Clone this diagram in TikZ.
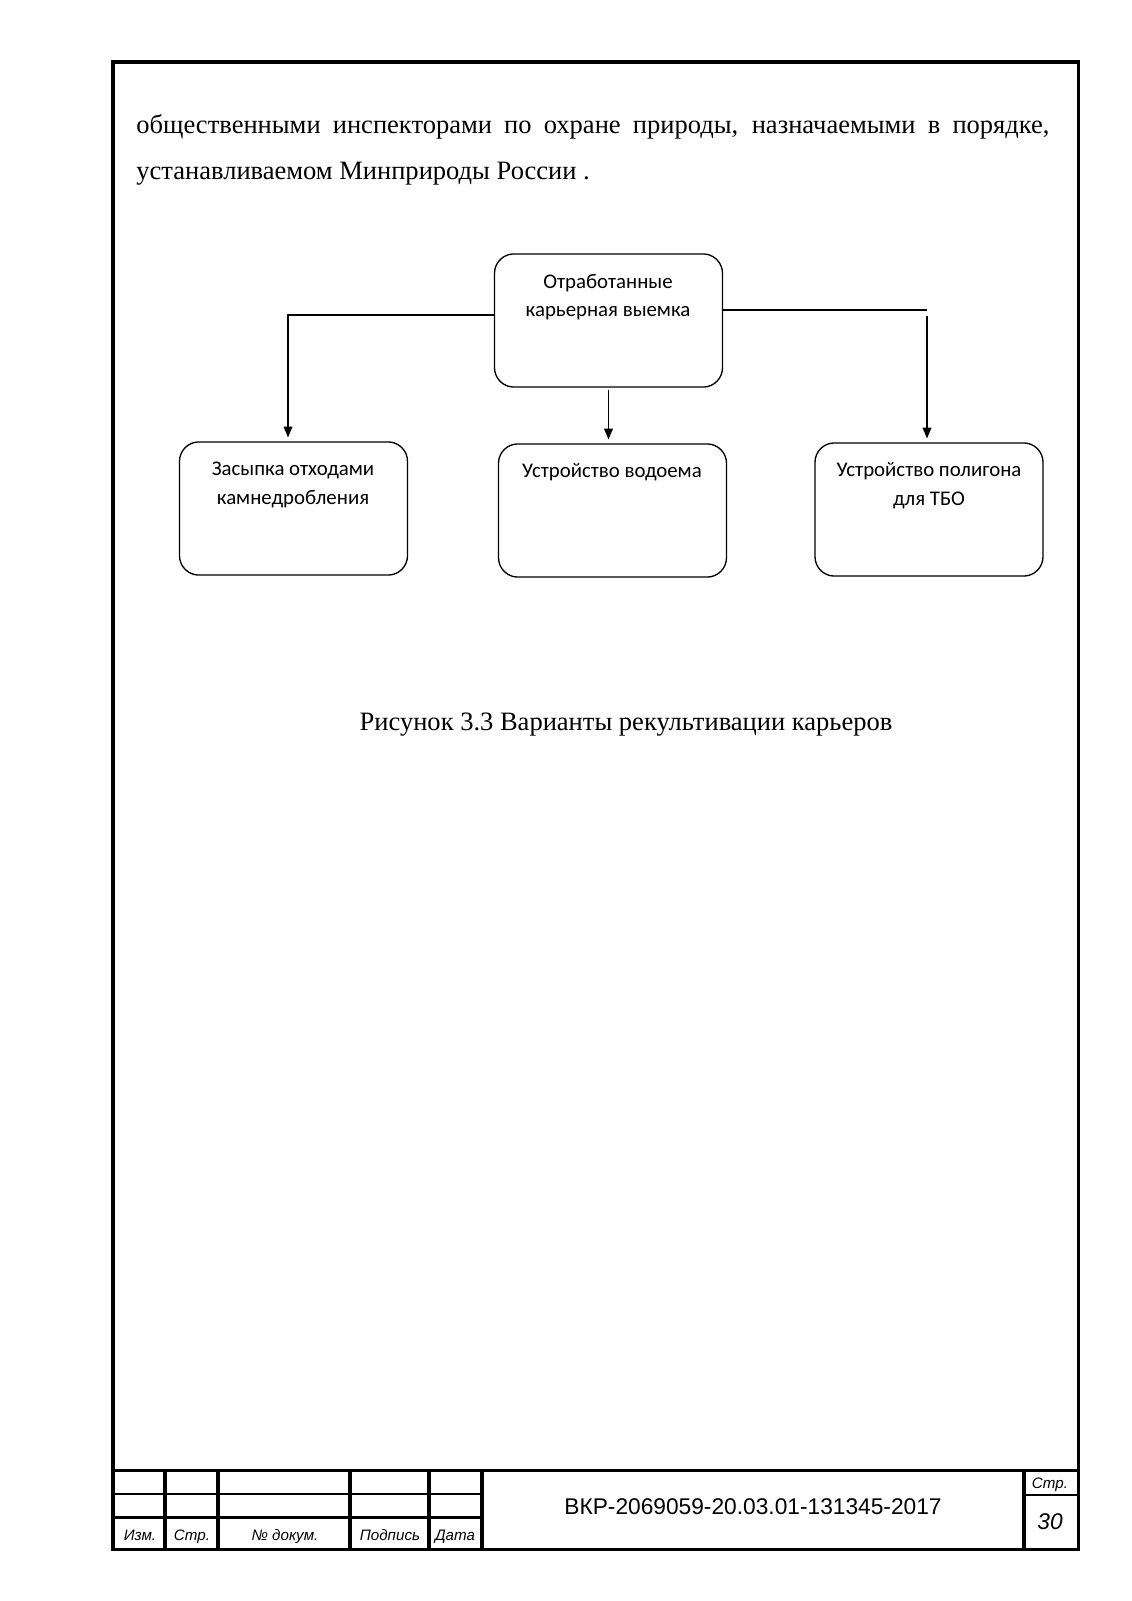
\documentclass[tikz,border=0pt]{standalone}
\usepackage{fontspec}
\setmainfont{Liberation Serif}
\newfontfamily\boxfont{Carlito}
\newfontfamily\gostfont{Liberation Sans}
\usetikzlibrary{arrows.meta}
\begin{document}
\begin{tikzpicture}[x=0.18551mm,y=-0.18551mm,
  frameline/.style={line width=1.6pt},
  thinrule/.style={line width=1pt},
  box/.style={draw, line width=0.7pt, rounded corners=3.6mm, minimum width=42.3mm, minimum height=24.7mm, inner sep=0pt},
  boxtext/.style={font=\boxfont\fontsize{11pt}{13pt}\selectfont, anchor=base, inner sep=0pt},
  conn/.style={line width=0.7pt},
  arr/.style={line width=0.7pt, -{Triangle[length=2mm,width=1.6mm]}},
  cell/.style={font=\gostfont\itshape\fontsize{8pt}{9pt}\selectfont, inner sep=0pt, anchor=base},
]
\useasboundingbox[fill=white] (0,0) rectangle (1132,1601);

% page frame and title block
\draw[frameline] (113,62) rectangle (1078,1549);
\draw[frameline] (113,1470) -- (1078,1470);
\foreach \xx in {165,218,350,429,482,1024} {
  \draw[frameline] (\xx,1470) -- (\xx,1549);
}
\draw[thinrule] (113,1494) -- (482,1494);
\draw[frameline] (113,1517) -- (482,1517);
\draw[thinrule] (1024,1495) -- (1078,1495);

\node[cell] (izm) at (140,1540) {Изм.};
\node[cell] (str) at (192,1540) {Стр.};
\node[cell] (dok) at (285,1540) {№ докум.};
\node[cell] (podp) at (390,1540) {Подпись};
\node[cell] (data) at (455,1540) {Дата};
\node[font=\gostfont\fontsize{12pt}{14pt}\selectfont, inner sep=0pt] (code) at (753,1507) {ВКР-2069059-20.03.01-131345-2017};
\node[cell, anchor=center] (strr) at (1050,1485) {Стр.};
\node[font=\gostfont\itshape\fontsize{12pt}{14pt}\selectfont, inner sep=0pt] (page) at (1050,1522) {30};

% paragraph text
\node[inner sep=0pt, anchor=base west] (para) at (136,134) {\parbox[t]{169.4mm}{\fontsize{14pt}{24.15pt}\selectfont\noindent
общественными инспекторами по охране природы, назначаемыми в порядке, устанавливаемом Минприроды России .}};

% diagram boxes
\node[box] (top) at (608.5,320.5) {};
\node[box] (left) at (293.5,508.5) {};
\node[box] (mid) at (612.5,510.5) {};
\node[box] (right) at (929,509.5) {};

\node[boxtext] (topa) at (608,288) {Отработанные};
\node[boxtext] (topb) at (608,316) {карьерная выемка};
\node[boxtext] (lefta) at (293,475) {Засыпка отходами};
\node[boxtext] (leftb) at (293,504) {камнедробления};
\node[boxtext] (mida) at (612,477) {Устройство водоема};
\node[boxtext] (righta) at (929,476) {Устройство полигона};
\node[boxtext] (rightb) at (929,505) {для ТБО};

% connectors
\coordinate (lk) at (288,315);
\coordinate (rk) at (927,310);
\coordinate (rv) at (927,316);
\draw[arr, shorten >=0.7mm] (top.west |- lk) -- (lk) -- (lk |- left.north);
\draw[conn] (top.east |- rk) -- (rk);
\draw[arr, shorten >=0.7mm] (rv) -- (rv |- right.north);
\draw[arr, shorten >=0.7mm, shorten <=0.4mm] (top.south) -- (top.south |- mid.north);

% caption
\node[inner sep=0pt, font=\fontsize{14pt}{17pt}\selectfont] (caption) at (626,725) {Рисунок 3.3 Варианты рекультивации карьеров};
\end{tikzpicture}
\end{document}
